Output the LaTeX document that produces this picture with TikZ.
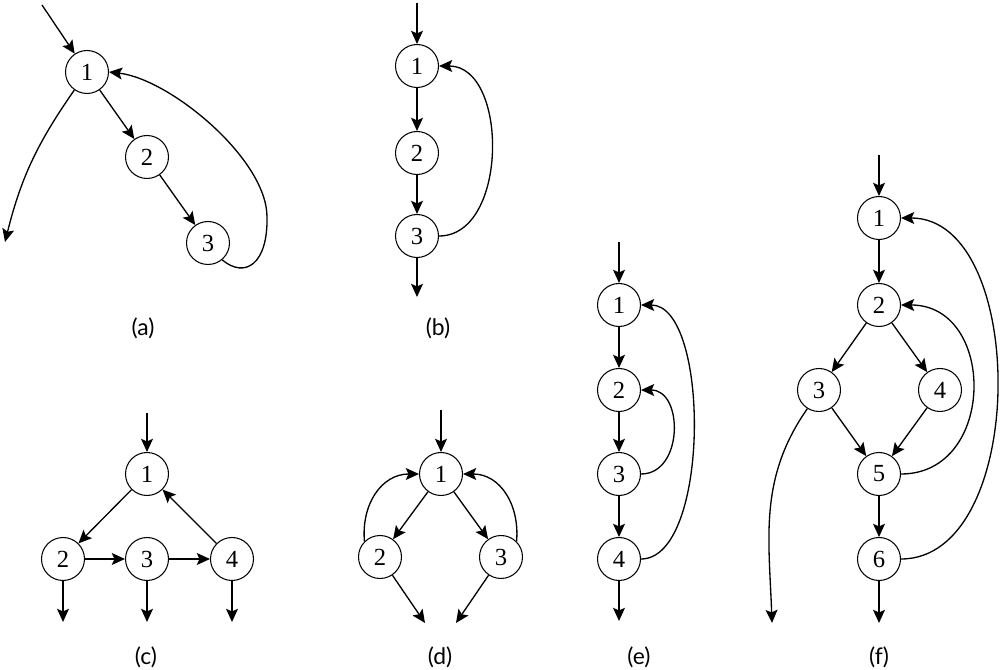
\documentclass[tikz,border=0pt]{standalone}
\usepackage{fontspec}
\setmainfont{Liberation Serif}
\newfontfamily\capfont{Lato}
\usetikzlibrary{arrows.meta}

\begin{document}
\begin{tikzpicture}[
    x = 0.02cm,
    y = 0.02cm,
    vertex/.style = {draw, circle, minimum size=0.86cm, inner sep=0pt,
      line width=0.6pt, font=\fontsize{14}{16}\selectfont},
    flow/.style = {-{Stealth[length=7.5pt, width=6.8pt, inset=1.5pt]},
      line width=0.75pt},
    lbl/.style = {font=\capfont\fontsize{13}{15}\selectfont},
    ]
    \useasboundingbox (0,0) rectangle (1000,669);
    % graph (a)
    \node[vertex] (a1) at (87,597) {1};
    \node[vertex] (a2) at (147,512) {2};
    \node[vertex] (a3) at (208,426) {3};
    \coordinate (a0) at (42,664);
    \coordinate (aout) at (5,427);
    \draw[flow] (a0) -- (a1);
    \draw[flow] (a1) -- (a2);
    \draw[flow] (a2) -- (a3);
    \draw[flow] (a1.-125) to[out=-125, in=76] (aout);
    \draw[flow] (a3.-50) .. controls (245,390) and (268,405) .. (267,452)
      .. controls (267,510) and (170,590) .. (a1.east);
    \node[lbl] (la) at (143,341) {(a)};
    % graph (b)
    \node[vertex] (b1) at (417,603) {1};
    \node[vertex] (b2) at (417,516) {2};
    \node[vertex] (b3) at (417,433) {3};
    \coordinate (b0) at (417,666);
    \coordinate (bout) at (417,372);
    \draw[flow] (b0) -- (b1);
    \draw[flow] (b1) -- (b2);
    \draw[flow] (b2) -- (b3);
    \draw[flow] (b3) -- (bout);
    \draw[flow] (b3.east) to[out=0, in=0, looseness=1.05] (b1.east);
    \node[lbl] (lb) at (438,341) {(b)};
    % graph (c)
    \node[vertex] (c1) at (147,195) {1};
    \node[vertex] (c2) at (63,110) {2};
    \node[vertex] (c3) at (147,110) {3};
    \node[vertex] (c4) at (232,110) {4};
    \coordinate (c0) at (147,256);
    \draw[flow] (c0) -- (c1);
    \draw[flow] (c1) -- (c2);
    \draw[flow] (c2) -- (c3);
    \draw[flow] (c3) -- (c4);
    \draw[flow] (c4) -- (c1);
    \foreach \n/\x in {2/63, 3/147, 4/232}
    {
      \coordinate (c\n out) at (\x,47);
      \draw[flow] (c\n) -- (c\n out);
    }
    \node[lbl] (lc) at (146,12) {(c)};
    % graph (d)
    \node[vertex] (d1) at (441,195) {1};
    \node[vertex] (d2) at (380,112) {2};
    \node[vertex] (d3) at (501,112) {3};
    \coordinate (d0) at (441,259);
    \coordinate (d2out) at (425,46);
    \coordinate (d3out) at (456,46);
    \draw[flow] (d0) -- (d1);
    \draw[flow] (d1) -- (d2);
    \draw[flow] (d1) -- (d3);
    \draw[flow] (d2) -- (d2out);
    \draw[flow] (d3) -- (d3out);
    \draw[flow] (d2.135) to[out=95, in=180, looseness=1.1] (d1.west);
    \draw[flow] (d3.45) to[out=85, in=0, looseness=1.1] (d1.east);
    \node[lbl] (ld) at (440,12) {(d)};
    % graph (e)
    \foreach \n/\y in {1/364, 2/279, 3/195, 4/110}
    \node[vertex] (e\n) at (619,\y) {\n};
    \coordinate (e0) at (619,427);
    \coordinate (eout) at (619,48);
    \draw[flow] (e0) -- (e1);
    \draw[flow] (e1) -- (e2);
    \draw[flow] (e2) -- (e3);
    \draw[flow] (e3) -- (e4);
    \draw[flow] (e4) -- (eout);
    \draw[flow] (e3.east) to[out=0, in=0, looseness=1.3] (e2.east);
    \draw[flow] (e4.east) to[out=0, in=0, looseness=0.7] (e1.east);
    \node[lbl] (le) at (639,12) {(e)};
    % graph (f)
    \node[vertex] (f1) at (879,451) {1};
    \node[vertex] (f2) at (879,364) {2};
    \node[vertex] (f3) at (819,279) {3};
    \node[vertex] (f4) at (940,279) {4};
    \node[vertex] (f5) at (879,195) {5};
    \node[vertex] (f6) at (879,110) {6};
    \coordinate (f0) at (879,514);
    \coordinate (fout) at (879,46);
    \coordinate (f3out) at (772,46);
    \draw[flow] (f0) -- (f1);
    \draw[flow] (f1) -- (f2);
    \draw[flow] (f2) -- (f3);
    \draw[flow] (f2) -- (f4);
    \draw[flow] (f3) -- (f5);
    \draw[flow] (f4) -- (f5);
    \draw[flow] (f5) -- (f6);
    \draw[flow] (f6) -- (fout);
    \draw[flow] (f3.-122) to[out=-125, in=92] (f3out);
    \draw[flow] (f5.east) to[out=0, in=0, looseness=1.45] (f2.east);
    \draw[flow] (f6.east) to[out=0, in=0, looseness=0.96] (f1.east);
    \node[lbl] (lf) at (879,12) {(f)};
  \end{tikzpicture}
\end{document}
